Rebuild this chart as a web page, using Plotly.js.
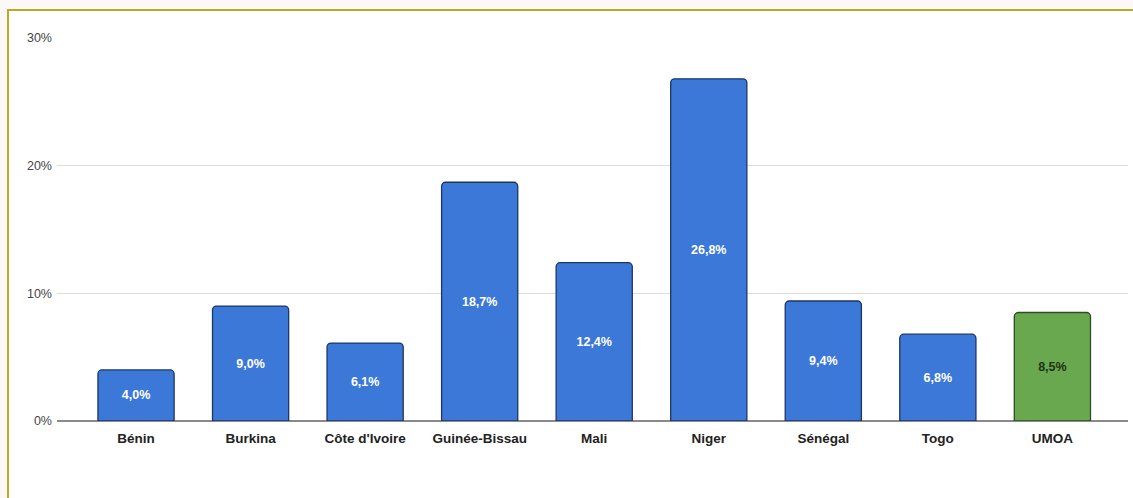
<!DOCTYPE html>
<html>
<head>
<meta charset="utf-8">
<script src="https://cdn.plot.ly/plotly-3.0.1.min.js"></script>
<style>
  html, body { margin:0; padding:0; background:#fcf8f7; width:1133px; height:498px; overflow:hidden; }
  #frame { position:absolute; left:7px; top:9px; width:1140px; height:500px; background:#ffffff; border-left:2px solid #b8ab25; border-top:2px solid #b8ab25; }
  #chart { position:absolute; left:0; top:0; width:1133px; height:498px; }
</style>
</head>
<body>
<div id="frame"></div>
<div id="chart"></div>
<script>
const categories = ["Bénin", "Burkina", "Côte d'Ivoire", "Guinée-Bissau", "Mali", "Niger", "Sénégal", "Togo", "UMOA"];
const values = [4.0, 9.0, 6.1, 18.7, 12.4, 26.8, 9.4, 6.8, 8.5];
const yTickVals = [0, 10, 20, 30];
const yTickText = ["0%", "10%", "20%", "30%"];

const isTotal = categories.map(c => c === "UMOA");
const fillColors = isTotal.map(t => t ? "#6aa84f" : "#3c78d8");
const lineColors = isTotal.map(t => t ? "#2e4d24" : "#1c3664");
const textColors = isTotal.map(t => t ? "#1d3316" : "#ffffff");
const labels = values.map(v => v.toFixed(1).replace(".", ",") + "%");

const trace = {
  type: "bar",
  x: categories,
  y: values,
  text: labels,
  textposition: "inside",
  insidetextanchor: "middle",
  textangle: 0,
  constraintext: "none",
  textfont: { family: "Liberation Sans, Arial, sans-serif", size: 12.5, color: textColors, weight: "bold" },
  marker: { color: fillColors, line: { color: lineColors, width: 1.3 }, cornerradius: 4 },
  hoverinfo: "none"
};

const layout = {
  width: 1133,
  height: 498,
  margin: { l: 57, r: 5, t: 38, b: 77 },
  paper_bgcolor: "rgba(0,0,0,0)",
  plot_bgcolor: "rgba(0,0,0,0)",
  bargap: 0.335,
  showlegend: false,
  font: { family: "Liberation Sans, Arial, sans-serif", color: "#444444" },
  xaxis: {
    type: "category",
    range: [-0.69, 8.66],
    showgrid: false,
    showline: false,
    zeroline: false,
    ticks: "",
    ticklabelstandoff: 7,
    tickfont: { family: "Liberation Sans, Arial, sans-serif", size: 13.5, color: "#222222", weight: "bold" },
    fixedrange: true
  },
  yaxis: {
    range: [0, 30],
    tickvals: yTickVals,
    ticktext: yTickText,
    showgrid: true,
    gridcolor: "#dcdcdc",
    gridwidth: 1,
    zeroline: true,
    zerolinecolor: "#8a8a8a",
    zerolinewidth: 1.5,
    showline: false,
    ticks: "",
    ticklabelstandoff: 4,
    tickfont: { family: "Liberation Sans, Arial, sans-serif", size: 12.5, color: "#444444" },
    fixedrange: true
  }
};

Plotly.newPlot("chart", [trace], layout, { displayModeBar: false, staticPlot: true });
</script>
</body>
</html>
